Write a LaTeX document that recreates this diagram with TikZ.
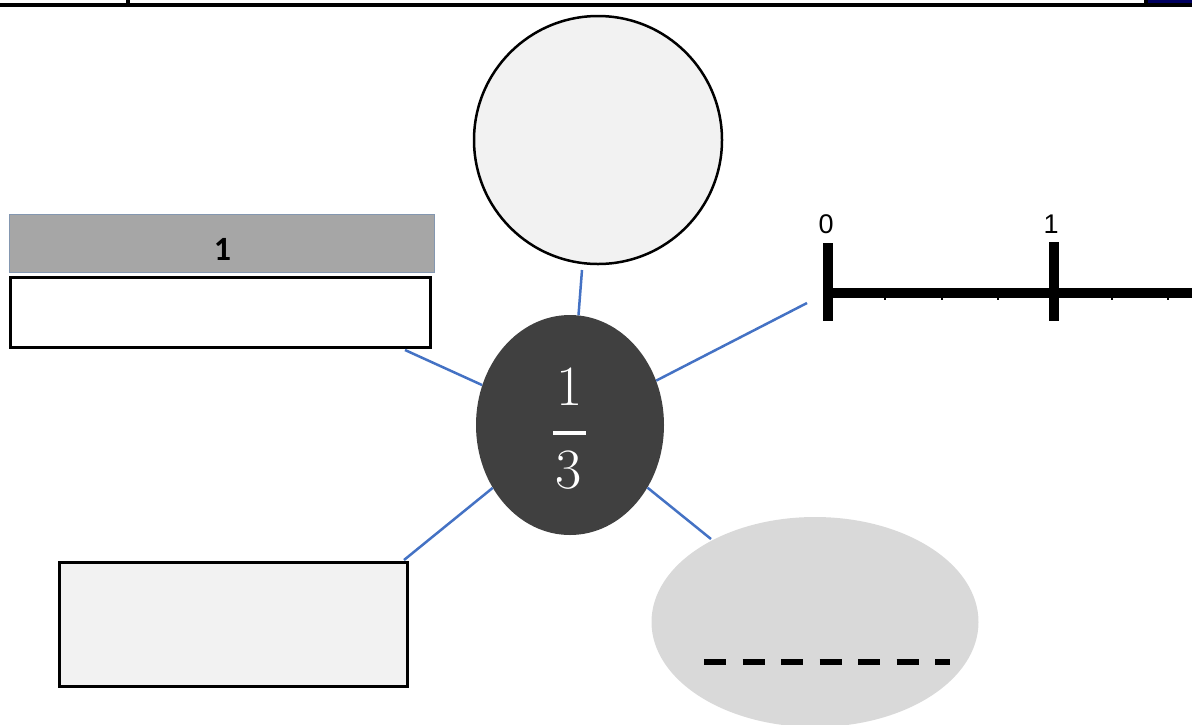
\documentclass[tikz,border=0pt]{standalone}
\usepackage{fontspec}
\newfontfamily\calib{Carlito}
\newfontfamily\arial{Liberation Sans}
\usetikzlibrary{shapes.geometric}
\definecolor{conn}{HTML}{4472C4}
\definecolor{lightfill}{HTML}{F2F2F2}
\definecolor{midgray}{HTML}{D9D9D9}
\definecolor{bargray}{HTML}{A6A6A6}
\definecolor{barborder}{HTML}{8497B0}
\definecolor{darkfill}{HTML}{404040}
\definecolor{navy}{HTML}{000060}
\begin{document}
\begin{tikzpicture}[x=1pt,y=-1pt,
  connector/.style={conn, line width=2.5pt},
  boxed/.style={draw=black, line width=3pt, inner sep=0pt},
  tickmain/.style={line width=10pt},
  ticksmall/.style={line width=2pt},
  nllabel/.style={font=\arial\fontsize{27}{29}\selectfont, inner sep=0pt},
  fracdigit/.style={text=white, font=\fontsize{57}{60}\selectfont, inner sep=0pt}]
\useasboundingbox (0,0) rectangle (1192,724);
\begin{scope}
\clip (0,0) rectangle (1192,724);
% top frame
\fill[navy] (1148,0) rectangle (1192,3.4);
\draw[line width=3.5pt] (0,5) -- (1192,5);
\draw[line width=4pt] (128,0) -- (128,4);
\draw[line width=4pt] (1146,0) -- (1146,5);
% nodes
\node[draw=black, line width=2.5pt, fill=lightfill, circle, minimum size=248pt, inner sep=0pt] (circ) at (598,140) {};
\node[draw=barborder, line width=1.2pt, fill=bargray, minimum width=425pt, minimum height=58pt, inner sep=0pt] (bar) at (222,243.5) {};
\node[font=\calib\bfseries\fontsize{34}{36}\selectfont, inner sep=0pt] (barlabel) at (222.5,249.5) {1};
\node[boxed, fill=white, minimum width=420pt, minimum height=70pt] (whitebox) at (220.5,312.5) {};
\node[boxed, fill=lightfill, minimum width=348pt, minimum height=124pt] (graybox) at (233,624) {};
\node[fill=midgray, ellipse, minimum width=327pt, minimum height=210pt, inner sep=0pt] (oval) at (815,622) {};
\node[fill=darkfill, ellipse, minimum width=188pt, minimum height=220pt, inner sep=0pt] (c) at (570,425) {};
% fraction
\node[fracdigit] (num) at (570,387) {1};
\node[fracdigit] (den) at (569,470.5) {3};
\draw[white, line width=4pt] (553,432.5) -- (586,432.5);
% dashes in oval
\draw[line width=5.5pt, dash pattern=on 22pt off 16.5pt] (704,662) -- (950,662);
% number line
\draw[tickmain] (828,293) -- (1200,293);
\draw[tickmain] (828,243) -- (828,321);
\draw[tickmain] (1054,242) -- (1054,321);
\foreach \x in {885,942,998,1112,1168} \draw[ticksmall] (\x,296) -- (\x,300);
\node[nllabel] (lab0) at (826,224.5) {0};
\node[nllabel] (lab1) at (1051,224.5) {1};
% connector ends
\coordinate (etop) at (582,270);
\coordinate (enl) at (807,303);
\coordinate (ewhite) at (405,350);
\coordinate (egray) at (404,560);
\coordinate (eoval) at (711,539);
\draw[connector] (c) -- (etop);
\draw[connector] (c) -- (enl);
\draw[connector] (c) -- (ewhite);
\draw[connector] (c) -- (egray);
\draw[connector] (c) -- (eoval);
\end{scope}
\end{tikzpicture}
\end{document}
